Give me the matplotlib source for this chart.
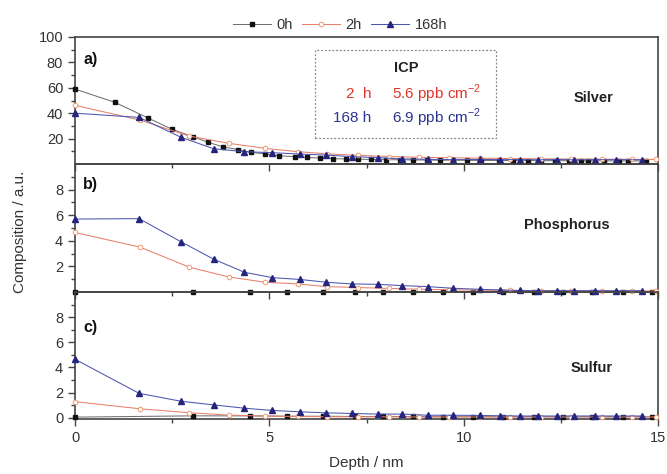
import matplotlib
matplotlib.use("Agg")
import matplotlib.pyplot as plt
from matplotlib.patches import Rectangle
from matplotlib.ticker import FixedLocator

plt.rcParams['font.family'] = ['Liberation Sans', 'DejaVu Sans']

# Depth grids (nm) for each exposure time
depth_0h = [0, 1.03, 1.88, 2.50, 3.03, 3.43, 3.80, 4.20, 4.52, 4.90, 5.24, 5.65, 5.98,
            6.30, 6.64, 6.96, 7.27, 7.62, 8.00, 8.35, 8.70, 9.05, 9.39, 9.73, 10.08,
            10.45, 10.90, 11.27, 11.65, 12.00, 12.35, 12.70, 13.03, 13.20, 13.60,
            14.00, 14.23, 14.70]
depth_0h_ps = [0, 3.03, 4.49, 5.46, 6.37, 7.20, 7.93, 8.70, 9.47, 10.25, 11.00, 11.80,
               12.55, 13.30, 14.10, 14.85]
depth_2h = [0, 1.68, 2.94, 3.95, 4.90, 5.73, 6.49, 7.28, 8.07, 8.85, 9.63, 10.42,
            11.20, 11.98, 12.77, 13.55, 14.33, 14.95]
depth_168h = [0, 1.65, 2.73, 3.57, 4.36, 5.08, 5.79, 6.47, 7.12, 7.80, 8.42, 9.08,
              9.73, 10.42, 10.93, 11.45, 11.91, 12.39, 12.85, 13.38, 13.93, 14.58]

# Silver
ag_0h = [59, 48.5, 36.2, 27.3, 21.5, 17.0, 13.6, 11.3, 9.2, 7.9, 6.5, 5.8, 5.2, 4.7,
         4.2, 4.0, 3.8, 3.6, 3.4, 3.3, 3.2, 3.1, 3.0, 3.0, 2.9, 2.8, 2.8, 2.7, 2.7,
         2.6, 2.6, 2.6, 2.5, 2.5, 2.5, 2.4, 2.4, 2.4]
ag_2h = [46.2, 34.5, 22.0, 16.3, 12.3, 9.7, 8.0, 6.8, 5.9, 5.3, 4.9, 4.6, 4.3, 4.1,
         3.9, 3.8, 3.7, 3.6]
ag_168h = [40, 36.7, 21.0, 12.0, 9.7, 8.9, 7.8, 7.0, 5.8, 5.0, 4.0, 3.7, 3.4, 3.6,
           3.4, 3.5, 3.3, 3.5, 3.3, 3.4, 3.4, 3.3]

# Phosphorus
p_0h = [0.02, 0.03, 0.03, 0.03, 0.03, 0.02, 0.02, 0.02, 0.02, 0.02, 0.02, 0.02,
        0.02, 0.02, 0.02, 0.02]
p_2h = [4.65, 3.5, 1.94, 1.18, 0.76, 0.63, 0.42, 0.35, 0.28, 0.22, 0.18, 0.14,
        0.12, 0.10, 0.10, 0.08, 0.08, 0.08]
p_168h = [5.7, 5.73, 3.92, 2.56, 1.54, 1.12, 0.98, 0.76, 0.63, 0.60, 0.50, 0.42,
          0.29, 0.21, 0.16, 0.12, 0.10, 0.10, 0.10, 0.10, 0.10, 0.10]

# Sulfur
s_0h = [0.05, 0.15, 0.15, 0.12, 0.12, 0.10, 0.10, 0.10, 0.08, 0.08, 0.08, 0.08,
        0.08, 0.08, 0.08, 0.08]
s_2h = [1.28, 0.71, 0.40, 0.21, 0.13, 0.10, 0.08, 0.07, 0.07, 0.06, 0.06, 0.06,
        0.06, 0.06, 0.06, 0.06, 0.06, 0.06]
s_168h = [4.65, 1.94, 1.31, 1.02, 0.76, 0.58, 0.47, 0.39, 0.34, 0.29, 0.29, 0.20,
          0.20, 0.18, 0.16, 0.14, 0.14, 0.14, 0.14, 0.14, 0.14, 0.14]

series_labels = ["0h", "2h", "168h"]
panel_tags = ["a)", "b)", "c)"]
element_names = ["Silver", "Phosphorus", "Sulfur"]

spine_col = "#444444"
tick_col = "#333333"

fig = plt.figure(figsize=(6.67, 4.74), dpi=100)
fig.patch.set_facecolor("white")

left, width = 75 / 667, 583 / 667
rects = [
    (left, 1 - 164 / 474, width, 127 / 474),
    (left, 1 - 292 / 474, width, 128 / 474),
    (left, 1 - 419 / 474, width, 127 / 474),
]
axes = [fig.add_axes(r) for r in rects]

style_0h = dict(color="#707070", lw=0.75, marker="s", ms=3.0, mfc="#111111",
                mec="#111111", clip_on=False, zorder=3)
style_2h = dict(color="#e8806a", lw=0.75, marker="o", ms=3.3, mfc="white",
                mec="#f09a70", mew=0.7, clip_on=False, zorder=3)
style_168h = dict(color="#4a56b0", lw=0.75, marker="^", ms=4.0, mfc="#25257f",
                  mec="#25257f", clip_on=False, zorder=4)

data = [
    (depth_0h, ag_0h, ag_2h, ag_168h),
    (depth_0h_ps, p_0h, p_2h, p_168h),
    (depth_0h_ps, s_0h, s_2h, s_168h),
]

handles = []
for i, (ax, (d0, v0, v2, v168)) in enumerate(zip(axes, data)):
    ax.set_facecolor("none")
    h0, = ax.plot(d0, v0, label=series_labels[0], **style_0h)
    h2, = ax.plot(depth_2h, v2, label=series_labels[1], **style_2h)
    h168, = ax.plot(depth_168h, v168, label=series_labels[2], **style_168h)
    if i == 0:
        handles = [h0, h2, h168]
    ax.set_xlim(0, 15)
    ax.xaxis.set_major_locator(FixedLocator([0, 5, 10, 15]))
    ax.xaxis.set_minor_locator(FixedLocator([2.5, 7.5, 12.5]))
    for sp in ax.spines.values():
        sp.set_color(spine_col)
        sp.set_linewidth(1.2)
    ax.tick_params(axis="both", which="major", direction="out", length=5, width=1,
                   color=spine_col, labelcolor=tick_col, labelsize=10.5)
    ax.tick_params(axis="both", which="minor", direction="out", length=3, width=1,
                   color=spine_col)
    if i < 2:
        ax.tick_params(axis="x", labelbottom=False)
    ax.text(0.014, [0.82, 0.836, 0.717][i], panel_tags[i], transform=ax.transAxes,
            fontsize=11.5, fontweight="bold", color="#111111", va="center", ha="left")
    ax.text([0.889, 0.843, 0.886][i], [0.52, 0.523, 0.40][i], element_names[i],
            transform=ax.transAxes, fontsize=10.5, fontweight="bold", color="#222222",
            va="center", ha="center")

axes[0].set_ylim(0, 100)
axes[0].yaxis.set_major_locator(FixedLocator([20, 40, 60, 80, 100]))
axes[0].yaxis.set_minor_locator(FixedLocator([10, 30, 50, 70, 90]))
axes[1].set_ylim(0, 10)
axes[1].yaxis.set_major_locator(FixedLocator([2, 4, 6, 8]))
axes[1].yaxis.set_minor_locator(FixedLocator([1, 3, 5, 7, 9]))
axes[2].set_ylim(-0.1, 10)
axes[2].yaxis.set_major_locator(FixedLocator([0, 2, 4, 6, 8]))
axes[2].yaxis.set_minor_locator(FixedLocator([1, 3, 5, 7, 9]))

# ICP box in the silver panel
ax = axes[0]
ax.add_patch(Rectangle((0.412, 0.205), 0.310, 0.693, transform=ax.transAxes,
                       fill=False, ec="#888888", lw=0.9, ls=(0, (1.5, 1.5)), zorder=2))
ax.text(0.569, 0.756, "ICP", transform=ax.transAxes, fontsize=10.5, fontweight="bold",
        color="#222222", ha="center", va="center")
red_txt, blue_txt = "#e0352a", "#2a3590"
ax.text(0.509, 0.549, "2  h", transform=ax.transAxes, fontsize=11, color=red_txt,
        ha="right", va="center")
ax.text(0.543, 0.549, r"5.6 ppb cm$^{\mathregular{-2}}$", transform=ax.transAxes,
        fontsize=11, color=red_txt, ha="left", va="center")
ax.text(0.509, 0.36, "168 h", transform=ax.transAxes, fontsize=11, color=blue_txt,
        ha="right", va="center")
ax.text(0.543, 0.36, r"6.9 ppb cm$^{\mathregular{-2}}$", transform=ax.transAxes,
        fontsize=11, color=blue_txt, ha="left", va="center")

fig.legend(handles=handles, loc="center", bbox_to_anchor=(340 / 667, 1 - 25 / 474),
           ncol=3, frameon=False, fontsize=10.5, handlelength=2.6, handletextpad=0.4,
           columnspacing=0.6, labelcolor=tick_col)

fig.text(20 / 667, 1 - 232 / 474, "Composition / a.u.", rotation=90, fontsize=11,
         color=tick_col, ha="center", va="center")
fig.text(366 / 667, 1 - 463 / 474, "Depth / nm", fontsize=11, color=tick_col,
         ha="center", va="center")

fig.savefig("out.png", dpi=100)
